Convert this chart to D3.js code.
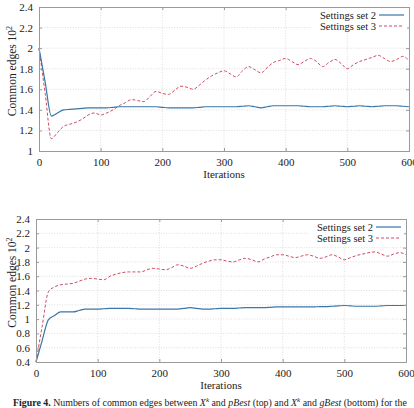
<!DOCTYPE html>
<html>
<head>
<meta charset="utf-8">
<script src="https://cdn.jsdelivr.net/npm/d3@7"></script>
<style>
  body { margin: 0; background: #fff; }
  svg text { font-family: "Liberation Serif", "DejaVu Serif", serif; fill: #222; }
  .grid line { stroke: #c8c8c8; stroke-width: 0.6; stroke-dasharray: 1,1.6; }
</style>
</head>
<body>
<svg id="fig" width="414" height="408"></svg>
<script>
// iterations (x values shared by every series)
let iters = [0,10,20,30,40,50,60,70,80,90,100,110,120,130,140,150,160,170,180,190,
  200,210,220,230,240,250,260,270,280,290,300,310,320,330,340,350,360,370,380,390,
  400,410,420,430,440,450,460,470,480,490,500,510,520,530,540,550,560,570,580,590,600]

// top panel: X^k vs pBest
let topSet2 = [2.00,1.67,1.34,1.37,1.40,1.405,1.41,1.415,1.42,1.42,
  1.42,1.42,1.425,1.43,1.43,1.43,1.43,1.43,1.43,1.43,
  1.425,1.42,1.42,1.42,1.42,1.42,1.425,1.43,1.43,1.43,
  1.43,1.43,1.43,1.435,1.44,1.43,1.42,1.43,1.44,1.44,
  1.44,1.44,1.44,1.435,1.43,1.43,1.43,1.435,1.44,1.435,
  1.43,1.435,1.44,1.435,1.43,1.435,1.44,1.44,1.44,1.435,1.43]
let topSet3 = [2.00,1.56,1.12,1.18,1.24,1.26,1.28,1.31,1.35,1.37,
  1.35,1.37,1.40,1.44,1.47,1.50,1.49,1.48,1.53,1.58,
  1.56,1.55,1.59,1.63,1.62,1.60,1.64,1.69,1.73,1.76,
  1.78,1.75,1.72,1.78,1.82,1.79,1.76,1.81,1.86,1.88,
  1.90,1.87,1.84,1.87,1.90,1.87,1.82,1.86,1.89,1.85,
  1.80,1.84,1.87,1.89,1.91,1.93,1.90,1.87,1.89,1.92,1.88]

// bottom panel: X^k vs gBest
let botSet2 = [0.40,0.70,0.99,1.05,1.10,1.10,1.10,1.12,1.14,1.14,
  1.14,1.145,1.15,1.15,1.15,1.15,1.145,1.14,1.14,1.14,
  1.14,1.14,1.14,1.14,1.15,1.16,1.15,1.14,1.14,1.145,
  1.15,1.15,1.15,1.155,1.16,1.16,1.16,1.16,1.165,1.17,
  1.17,1.17,1.17,1.17,1.17,1.17,1.175,1.175,1.18,1.185,
  1.19,1.185,1.18,1.18,1.18,1.18,1.185,1.19,1.19,1.19,1.19]
let botSet3 = [0.40,0.90,1.38,1.45,1.48,1.49,1.50,1.53,1.56,1.57,
  1.56,1.55,1.60,1.63,1.65,1.66,1.66,1.66,1.69,1.71,
  1.70,1.69,1.72,1.76,1.74,1.71,1.74,1.78,1.81,1.83,
  1.83,1.81,1.80,1.83,1.85,1.83,1.80,1.84,1.87,1.90,
  1.90,1.88,1.86,1.88,1.90,1.88,1.85,1.87,1.90,1.87,
  1.83,1.86,1.89,1.91,1.93,1.94,1.91,1.88,1.91,1.93,1.90]

let xTicks = [0,100,200,300,400,500,600]
let topYTicks = [1,1.2,1.4,1.6,1.8,2,2.2,2.4]
let botYTicks = [0.4,0.6,0.8,1,1.2,1.4,1.6,1.8,2,2.2,2.4]
let seriesNames = ['Settings set 2', 'Settings set 3']

let blue = '#3a77a8', red = '#cf4a62'

let svg = d3.select('svg#fig')

// draws one panel of the figure
function drawPanel(p) {
  let width = p.right - p.left,
      height = p.bottom - p.top

  let g = svg.append('g').attr('transform', `translate(${p.left}, ${p.top})`)

  let xScale = d3.scaleLinear().domain([0, 600]).range([0, width])
  let yScale = d3.scaleLinear().domain(d3.extent(p.yTicks)).range([height, 0])

  // dotted grid
  g.append('g').attr('class', 'grid')
    .selectAll('line').data(p.yTicks.slice(1, -1)).enter().append('line')
    .attr('x1', 0).attr('x2', width)
    .attr('y1', d => yScale(d)).attr('y2', d => yScale(d))
  g.append('g').attr('class', 'grid')
    .selectAll('line').data(xTicks.slice(1, -1)).enter().append('line')
    .attr('y1', 0).attr('y2', height)
    .attr('x1', d => xScale(d)).attr('x2', d => xScale(d))

  // lines
  let line = vals => d3.line()
    .x((d, i) => xScale(iters[i]))
    .y(d => yScale(d))
    .curve(d3.curveMonotoneX)(vals)

  g.append('path').attr('d', line(p.set3))
    .attr('fill', 'none').attr('stroke', red)
    .attr('stroke-width', 1).attr('stroke-dasharray', '3,2')
  g.append('path').attr('d', line(p.set2))
    .attr('fill', 'none').attr('stroke', blue).attr('stroke-width', 1.2)

  // axes (ticks inside, as in pgfplots)
  let xAxis = g.append('g').attr('transform', `translate(0, ${height})`)
    .call(d3.axisBottom(xScale).tickValues(xTicks).tickSize(-3).tickPadding(7).tickFormat(d3.format('d')))
  let yAxis = g.append('g')
    .call(d3.axisLeft(yScale).tickValues(p.yTicks).tickSize(-3).tickPadding(6).tickFormat(d => String(+d.toFixed(1))))
  let topAxis = g.append('g')
    .call(d3.axisTop(xScale).tickValues(xTicks).tickSize(-3).tickFormat(''))
  let rightAxis = g.append('g').attr('transform', `translate(${width}, 0)`)
    .call(d3.axisRight(yScale).tickValues(p.yTicks).tickSize(-3).tickFormat(''))

  ;[xAxis, yAxis, topAxis, rightAxis].forEach(a => {
    a.select('.domain').attr('stroke', '#9a9a9a')
    a.selectAll('.tick line').attr('stroke', '#9a9a9a')
    a.selectAll('text').attr('font-size', 11).attr('font-family', null).attr('fill', '#222')
  })

  // legend
  let lg = g.append('g').attr('transform', `translate(${width - 98}, 1)`)
  lg.append('rect').attr('width', 96).attr('height', 25).attr('fill', 'white')
  seriesNames.forEach((name, i) => {
    lg.append('text').attr('x', 65).attr('y', 10.5 + i * 11)
      .attr('text-anchor', 'end').attr('font-size', 10.5).text(name)
    lg.append('line').attr('x1', 68).attr('x2', 93)
      .attr('y1', 7 + i * 11).attr('y2', 7 + i * 11)
      .attr('stroke', i == 0 ? blue : red)
      .attr('stroke-width', i == 0 ? 1.2 : 1)
      .attr('stroke-dasharray', i == 0 ? null : '3,2')
  })

  // axis labels
  svg.append('text')
    .attr('x', p.left + width / 2).attr('y', p.bottom + 27)
    .attr('text-anchor', 'middle').attr('font-size', 11)
    .text('Iterations')

  let yl = svg.append('text')
    .attr('transform', `translate(16, ${p.top + height / 2 - 8}) rotate(-90)`)
    .attr('text-anchor', 'middle').attr('font-size', 11.5)
  yl.append('tspan').text('Common edges 10')
  yl.append('tspan').attr('dy', -4).attr('font-size', 8).text('2')
}

drawPanel({left: 39, right: 409, top: 7, bottom: 151, yTicks: topYTicks, set2: topSet2, set3: topSet3})
drawPanel({left: 36, right: 406, top: 219, bottom: 362, yTicks: botYTicks, set2: botSet2, set3: botSet3})

// caption
let cap = svg.append('text').attr('x', 13).attr('y', 405.5).attr('font-size', 9.9)
cap.append('tspan').attr('font-weight', 'bold').text('Figure 4.')
cap.append('tspan').text(' Numbers of common edges between ')
cap.append('tspan').attr('font-style', 'italic').text('X')
cap.append('tspan').attr('font-style', 'italic').attr('dy', -3.5).attr('font-size', 7).text('k')
cap.append('tspan').attr('dy', 3.5).text(' and ')
cap.append('tspan').attr('font-style', 'italic').text('pBest')
cap.append('tspan').text(' (top) and ')
cap.append('tspan').attr('font-style', 'italic').text('X')
cap.append('tspan').attr('font-style', 'italic').attr('dy', -3.5).attr('font-size', 7).text('k')
cap.append('tspan').attr('dy', 3.5).text(' and ')
cap.append('tspan').attr('font-style', 'italic').text('gBest')
cap.append('tspan').text(' (bottom) for the')
</script>
</body>
</html>
